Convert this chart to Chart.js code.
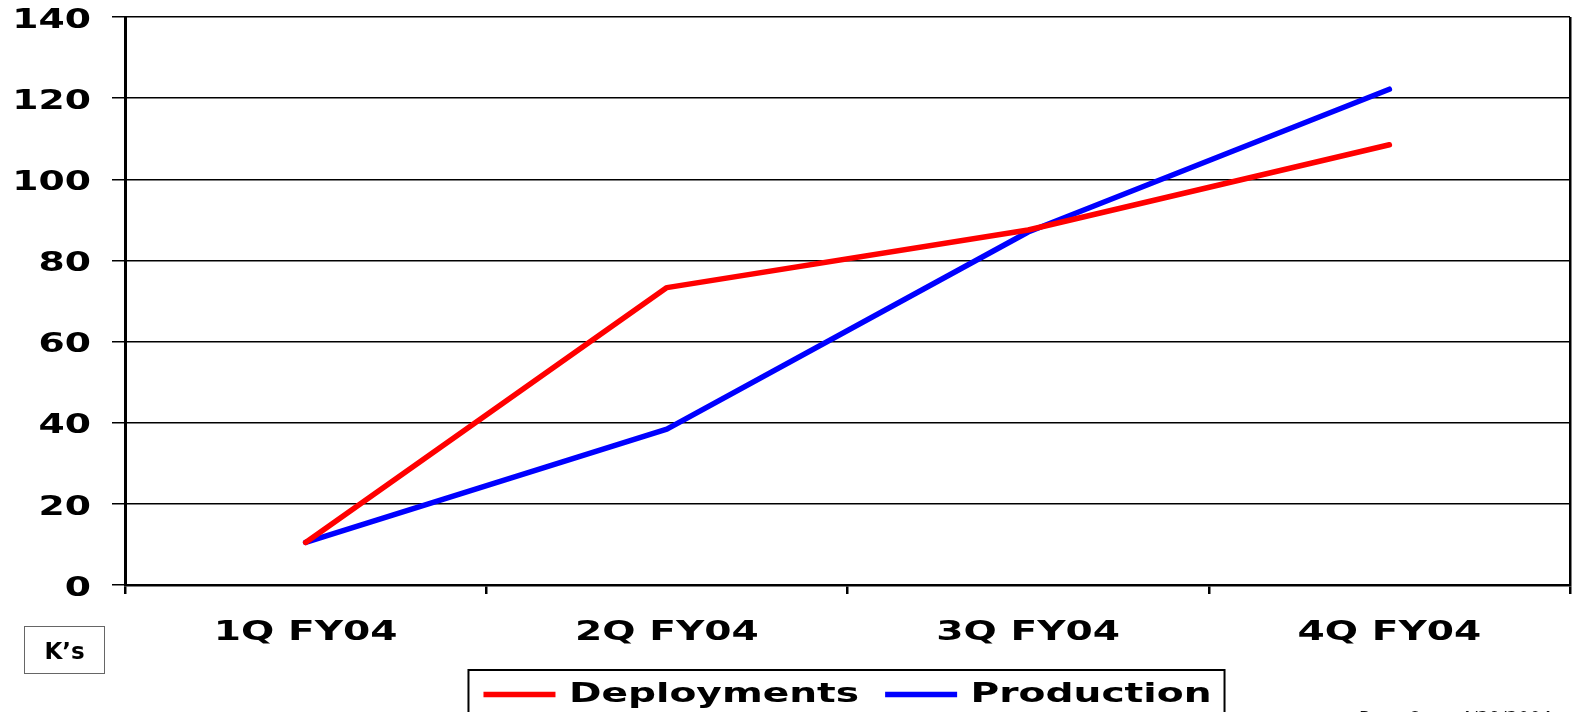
<!DOCTYPE html>
<html>
<head>
<meta charset="utf-8">
<script src="https://cdn.jsdelivr.net/npm/chart.js@4"></script>
<style>
html,body{margin:0;padding:0;width:1575px;height:712px;overflow:hidden;background:#fff;}
#wrap{position:relative;width:1575px;height:712px;overflow:hidden;}
#chart{position:absolute;left:0;top:0;}
#ks{position:absolute;left:24px;top:626px;width:81px;height:48px;box-sizing:border-box;border:1.5px solid #666;
  display:flex;align-items:center;justify-content:center;padding-top:2px;
  font-family:"DejaVu Sans";font-weight:bold;font-size:23px;line-height:1;color:#000;}
.pg{position:absolute;top:709px;font-family:"DejaVu Sans";font-size:18px;line-height:18px;color:#111;white-space:nowrap;}
</style>
</head>
<body>
<div id="wrap">
<canvas id="chart" width="1575" height="712"></canvas>
<div id="ks">K’s</div>
<div class="pg" style="left:1359px;">Page 6</div>
<div class="pg" style="left:1460px;">4/29/2004</div>
</div>
<script>
// ---- data ----
const categories = ['1Q FY04', '2Q FY04', '3Q FY04', '4Q FY04'];
const deployments = [10.5, 73.3, 87.5, 108.5];
const production = [10.5, 38.4, 87.0, 122.2];
const seriesNames = ['Deployments', 'Production'];
const yMin = 0, yMax = 140, yStep = 20;

const STRETCH = 1.45;
const FONT = 'DejaVu Sans';

// horizontally stretched text rendering (reference uses a widened bold face)
const stretchText = {
  id: 'stretchText',
  beforeInit(chart) {
    const ctx = chart.ctx;
    const fill = ctx.fillText.bind(ctx);
    const measure = ctx.measureText.bind(ctx);
    ctx.fillText = function (text, x, y, maxWidth) {
      ctx.save();
      ctx.translate(x, y);
      ctx.scale(STRETCH, 1);
      if (maxWidth === undefined || maxWidth === null) fill(text, 0, 0);
      else fill(text, 0, 0, maxWidth / STRETCH);
      ctx.restore();
    };
    ctx.measureText = function (text) {
      const m = measure(text);
      return {
        width: m.width * STRETCH,
        actualBoundingBoxAscent: m.actualBoundingBoxAscent,
        actualBoundingBoxDescent: m.actualBoundingBoxDescent,
        actualBoundingBoxLeft: m.actualBoundingBoxLeft * STRETCH,
        actualBoundingBoxRight: m.actualBoundingBoxRight * STRETCH
      };
    };
  }
};

// frame around the legend
const legendFrame = {
  id: 'legendFrame',
  afterDraw(chart) {
    const lg = chart.legend;
    if (!lg || !lg.legendHitBoxes || !lg.legendHitBoxes.length) return;
    const hb = lg.legendHitBoxes;
    const first = hb[0], last = hb[hb.length - 1];
    const left = first.left - 15;
    const right = last.left + last.width + 13;
    const top = first.top + first.height / 2 - 24.5;
    const ctx = chart.ctx;
    ctx.save();
    ctx.strokeStyle = '#000';
    ctx.lineWidth = 2;
    ctx.strokeRect(left, top, right - left, 80);
    ctx.restore();
  }
};

new Chart(document.getElementById('chart'), {
  type: 'line',
  data: {
    labels: categories,
    datasets: [
      { label: seriesNames[0], data: deployments, borderColor: '#ff0000', backgroundColor: '#ff0000',
        borderWidth: 5.5, pointRadius: 0, tension: 0, borderCapStyle: 'round', borderJoinStyle: 'round', fill: false },
      { label: seriesNames[1], data: production, borderColor: '#0000ff', backgroundColor: '#0000ff',
        borderWidth: 5.5, pointRadius: 0, tension: 0, borderCapStyle: 'round', borderJoinStyle: 'round', fill: false }
    ]
  },
  plugins: [stretchText, legendFrame],
  options: {
    responsive: false,
    animation: false,
    devicePixelRatio: 1,
    layout: { padding: { top: 17, right: 5, left: 0, bottom: 0 } },
    plugins: {
      legend: {
        position: 'bottom',
        fullSize: false,
        maxHeight: 57,
        labels: {
          usePointStyle: true, pointStyle: 'line', pointStyleWidth: 72, padding: 26, color: '#000',
          font: { family: FONT, size: 27, weight: 'bold' }
        }
      },
      tooltip: { enabled: false }
    },
    scales: {
      x: {
        offset: true,
        grid: {
          offset: true, drawOnChartArea: true,
          color: (c) => (c.type === 'tick' ? 'rgba(0,0,0,0)' : '#000'),
          tickColor: '#000', lineWidth: 2.5, tickLength: 9
        },
        border: { color: '#000', width: 2.5 },
        ticks: { color: '#000', padding: 23, maxRotation: 0, autoSkip: false,
          font: { family: FONT, size: 27, weight: 'bold' } },
        afterFit(s) { s.height = 70; }
      },
      y: {
        min: yMin, max: yMax,
        ticks: { stepSize: yStep, color: '#000', padding: 21, labelOffset: 4,
          font: { family: FONT, size: 26, weight: 'bold' } },
        grid: { color: '#000', lineWidth: 1.5, tickLength: 13 },
        border: { color: '#000', width: 3 },
        afterFit(s) { s.width = 125; s.paddingTop = 0; s.paddingBottom = 0; }
      }
    }
  }
});
</script>
</body>
</html>
